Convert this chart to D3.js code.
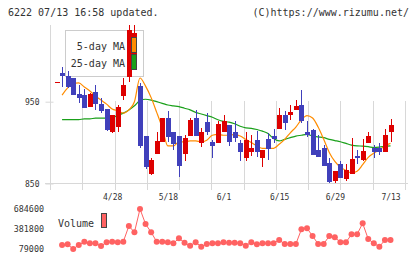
<!DOCTYPE html>
<html>
<head>
<meta charset="utf-8">
<script src="https://cdn.jsdelivr.net/npm/d3@7"></script>
<style>
  body { margin: 0; background: #fff; }
  svg text { font-family: "DejaVu Sans Mono", monospace; fill: #333; }
</style>
</head>
<body>
<svg id="chart" width="420" height="259"></svg>
<script>
const title = "6222 07/13 16:58 updated.";
const credit = "(C)https://www.rizumu.net/";

// daily candles, index 0 .. 60
const opens  = [974,985,981,979,959,958,943,962,947,941,913,919,957,980,1007,969,908,862,886,901,930,913,908,886,908,930,900,925,901,900,913,921,913,900,881,889,903,881,905,908,917,934,934,940,946,913,915,891,893,875,853,874,856,862,884,879,899,893,893,889,913];
const highs  = [974,992,988,979,970,966,961,971,955,941,934,946,979,1044,1044,973,908,881,913,930,939,913,908,909,930,940,918,936,903,926,934,922,926,903,913,909,914,891,912,917,942,939,946,952,964,926,917,909,897,881,865,878,874,906,891,904,913,897,899,917,929];
const lows   = [974,968,967,958,948,942,943,940,936,914,912,913,952,974,1001,894,868,860,886,901,901,891,858,878,908,908,895,909,881,900,913,896,901,877,877,884,883,870,879,900,917,916,928,940,924,907,885,882,872,851,851,857,853,862,874,877,899,881,885,889,901];
const closes = [974,981,968,958,955,942,959,947,939,915,934,943,970,1038,1034,896,870,879,902,930,907,898,872,906,928,908,913,913,896,923,926,901,906,888,903,893,889,891,892,905,934,924,938,945,926,909,885,882,872,852,865,857,866,880,881,890,908,889,888,909,922];

// moving averages
const ma5 = [null,958,967,972,973,968,963,957,952,947,941,939,936,940,950,979,969,955,937,918,896,896,901,901,902,902,901,903,909,910,909,909,910,908,904,900,896,893,893,893,898,904,912,919,928,933,930,919,904,888,877,870,866,863,865,873,882,887,891,896,899];
const ma25 = [null,928,928,928,928,929,929,930,930,930,931,933,936,940,945,951.5,953,952,950,948,946,945,944,942,940,937,935,933,931,928,926,925,923,920,918,917.5,916,914,911,905,902,904,906,908,909,910,908,907,906,904,902.5,901,899,897,896,895.7,895,894,894.5,895.5,896];

const volume = [null,140000,150000,79000,140000,189500,165000,165000,124000,180000,190000,180000,190000,427000,332000,684600,457500,332000,190000,190000,180000,165000,241000,174000,129000,180000,114000,155000,165000,165000,180000,174000,174000,165000,129000,180000,150000,165000,165000,165000,215000,155000,155000,155000,377000,392000,276000,155000,155000,276000,256000,180000,180000,301000,301000,468000,230000,165000,114000,215000,215000];

const dateTicks = [10, 20, 30, 40, 50, 60];
const dateLabels = ["4/28", "5/18", "6/1", "6/15", "6/29", "7/13"];
const priceTicks = [850, 950];
const volumeTicks = [79000, 381800, 684600];

const colors = { up: "#dd0000", down: "#4040bb", ma5: "#ff8c00", ma25: "#1aa01a", vol: "#ff6262", grid: "#d8d8d8" };

const svg = d3.select("#chart");

const x = d3.scaleLinear().domain([0, 60]).range([56.5, 390.5]);
const y = d3.scaleLinear().domain([850, 950]).range([183.5, 101.7]);
const yVol = d3.scaleLinear().domain([79000, 684600]).range([249, 209]);

// header
svg.append("text").attr("x", 8).attr("y", 16).style("font-size", "10px").text(title);
svg.append("text").attr("x", 409).attr("y", 16).attr("text-anchor", "end").style("font-size", "10px").text(credit);

// frame and grid
const grid = svg.append("g").attr("stroke", colors.grid).attr("shape-rendering", "crispEdges");
d3.range(1, 12).forEach(i => {
  const gx = Math.round(50 + i * 355 / 11) + 0.5;
  grid.append("line").attr("x1", gx).attr("x2", gx).attr("y1", 101).attr("y2", 190);
});
grid.append("line").attr("x1", 50.5).attr("x2", 50.5).attr("y1", 25).attr("y2", 190);
grid.append("line").attr("x1", 45).attr("x2", 408).attr("y1", 183.5).attr("y2", 183.5);

// price axis
const yAxis = svg.append("g")
  .attr("transform", "translate(50.5,0)")
  .call(d3.axisLeft(y).tickValues(priceTicks).tickSize(5).tickPadding(6));
yAxis.select(".domain").remove();
yAxis.selectAll("line").attr("stroke", colors.grid).attr("x2", -5).attr("x1", 3);
yAxis.selectAll("text").style("font-size", "8px").attr("fill", "#333");

// date axis
const xAxis = svg.append("g")
  .attr("transform", "translate(0,183.5)")
  .call(d3.axisBottom(x).tickValues(dateTicks).tickSize(0).tickPadding(11)
    .tickFormat((d, i) => dateLabels[i]));
xAxis.select(".domain").remove();
xAxis.selectAll("text").style("font-size", "8px").attr("fill", "#333");

// legend frame (behind candles)
svg.append("rect")
  .attr("x", 65.5).attr("y", 30.5).attr("width", 78).attr("height", 46)
  .attr("fill", "none").attr("stroke", "#cccccc");

// moving averages
const maLine = (arr) => d3.line()
  .defined(d => d != null)
  .x((d, i) => x(i))
  .y(d => y(d))
  .curve(d3.curveMonotoneX)(arr);

svg.append("path").attr("d", maLine(ma25)).attr("fill", "none").attr("stroke", colors.ma25).attr("stroke-width", 1.2);
svg.append("path").attr("d", maLine(ma5)).attr("fill", "none").attr("stroke", colors.ma5).attr("stroke-width", 1.2);

// candles
const candles = svg.append("g").attr("shape-rendering", "crispEdges");
opens.forEach((o, i) => {
  const c = closes[i];
  const col = c >= o ? colors.up : colors.down;
  const cx = Math.round(x(i));
  candles.append("line")
    .attr("x1", cx + 0.5).attr("x2", cx + 0.5)
    .attr("y1", y(highs[i])).attr("y2", y(lows[i]))
    .attr("stroke", col);
  const top = y(Math.max(o, c));
  const h = Math.max(1, y(Math.min(o, c)) - top);
  candles.append("rect")
    .attr("x", cx - 2).attr("width", 5)
    .attr("y", top).attr("height", h)
    .attr("fill", col);
});

// legend contents
svg.append("text").attr("x", 125).attr("y", 49.5).attr("text-anchor", "end").style("font-size", "10px").text("5-day MA");
svg.append("text").attr("x", 125).attr("y", 67).attr("text-anchor", "end").style("font-size", "10px").text("25-day MA");
svg.append("rect").attr("x", 131.5).attr("y", 37.5).attr("width", 5).attr("height", 15)
  .attr("fill", colors.ma5).attr("stroke", "#444");
svg.append("rect").attr("x", 131.5).attr("y", 54.5).attr("width", 5).attr("height", 15)
  .attr("fill", colors.ma25).attr("stroke", "#444");

// volume
const vAxis = svg.append("g")
  .attr("transform", "translate(50,0)")
  .call(d3.axisLeft(yVol).tickValues(volumeTicks).tickSize(0).tickPadding(6).tickFormat(d3.format("d")));
vAxis.select(".domain").remove();
vAxis.selectAll("text").style("font-size", "8.4px").attr("fill", "#333");

svg.append("text").attr("x", 58).attr("y", 226.5).style("font-size", "10px").text("Volume");
svg.append("rect").attr("x", 101.5).attr("y", 213.5).attr("width", 5).attr("height", 14)
  .attr("fill", colors.vol).attr("stroke", "#444");

const volLine = d3.line()
  .defined(d => d != null)
  .x((d, i) => x(i))
  .y(d => yVol(d));
svg.append("path").attr("d", volLine(volume)).attr("fill", "none").attr("stroke", colors.vol).attr("stroke-width", 1);

svg.selectAll(".vdot")
  .data(volume.map((v, i) => ({ v, i })).filter(d => d.v != null))
  .enter()
  .append("circle")
  .attr("cx", d => x(d.i))
  .attr("cy", d => yVol(d.v))
  .attr("r", 3)
  .attr("fill", colors.vol);
</script>
</body>
</html>
